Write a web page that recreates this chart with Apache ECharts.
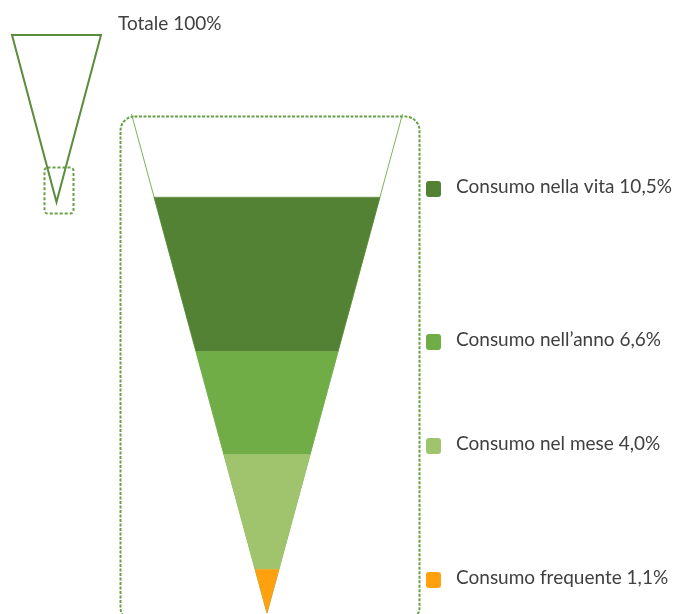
<!DOCTYPE html>
<html>
<head>
<meta charset="utf-8">
<script src="https://cdn.jsdelivr.net/npm/echarts@6/dist/echarts.min.js"></script>
<style>
  html, body { margin: 0; padding: 0; background: #ffffff; }
  #chart { width: 676px; height: 614px; }
</style>
</head>
<body>
<div id="chart"></div>
<script>
// Prevalence levels (% of population)
const categories = ['Consumo nella vita', 'Consumo nell\u2019anno', 'Consumo nel mese', 'Consumo frequente'];
const values = [10.5, 6.6, 4.0, 1.1];
const bandColors = ['#548235', '#70AD47', '#A0C46D', '#FFA10F'];
const totalLabel = 'Totale';
const totalValue = 100;
// upper bound of the magnified funnel section
const zoomTop = 12.6;

const FONT = 'Lato';
const fmt = v => v.toFixed(1).replace('.', ',') + '%';

// band i spans from the next smaller value up to values[i]
const bandData = values.map((v, i) => [i + 1 < values.length ? values[i + 1] : 0, v, i]);

function trapezoid(params, api) {
  const lo = api.value(0), hi = api.value(1), idx = api.value(2);
  const pts = [
    api.coord([-hi, hi]), api.coord([hi, hi]),
    api.coord([lo, lo]), api.coord([-lo, lo])
  ];
  return {
    type: 'polygon',
    shape: { points: pts },
    style: { fill: bandColors[idx], stroke: bandColors[idx], lineWidth: 0.5 }
  };
}

function outline(width, color) {
  return function (params, api) {
    const t = api.value(0);
    return {
      type: 'polyline',
      shape: { points: [api.coord([-t, t]), api.coord([0, 0]), api.coord([t, t])] },
      style: { stroke: color, lineWidth: width, fill: null, lineJoin: 'miter' }
    };
  };
}

function closedOutline(params, api) {
  const t = api.value(0);
  return {
    type: 'polygon',
    shape: { points: [api.coord([-t, t]), api.coord([t, t]), api.coord([0, 0])] },
    style: { stroke: '#5B8C3B', lineWidth: 2, fill: null, lineJoin: 'miter', miterLimit: 20 }
  };
}

const hidden = { show: false };
const chart = echarts.init(document.getElementById('chart'), null, { renderer: 'canvas' });

// legend rows (text + swatch), vertical centres
const legendY = [189, 342, 446, 580];
const legendGraphics = [];
categories.forEach((c, i) => {
  legendGraphics.push({
    type: 'rect', left: 426, top: legendY[i] - 8,
    shape: { width: 15, height: 16, r: 3 },
    style: { fill: bandColors[i] }
  });
  legendGraphics.push({
    type: 'text', left: 456, top: legendY[i] - 12,
    style: { text: c + ' ' + fmt(values[i]), fill: '#404040', font: '19px ' + FONT }
  });
});

chart.setOption({
  animation: false,
  grid: [
    { left: 12, top: 35, width: 89, height: 167 },
    { left: 131.5, top: 114, width: 271, height: 499 }
  ],
  xAxis: [
    Object.assign({ type: 'value', gridIndex: 0, min: -totalValue, max: totalValue }, hidden),
    Object.assign({ type: 'value', gridIndex: 1, min: -zoomTop, max: zoomTop }, hidden)
  ],
  yAxis: [
    Object.assign({ type: 'value', gridIndex: 0, min: 0, max: totalValue }, hidden),
    Object.assign({ type: 'value', gridIndex: 1, min: 0, max: zoomTop }, hidden)
  ],
  series: [
    {
      type: 'custom', xAxisIndex: 0, yAxisIndex: 0,
      renderItem: closedOutline, data: [[totalValue]], silent: true
    },
    {
      type: 'custom', xAxisIndex: 1, yAxisIndex: 1,
      renderItem: outline(1, '#7DB356'), data: [[zoomTop]], silent: true
    },
    {
      type: 'custom', xAxisIndex: 1, yAxisIndex: 1,
      renderItem: trapezoid, data: bandData, silent: true
    }
  ],
  graphic: [
    {
      type: 'text', left: 118, top: 14,
      style: { text: totalLabel + ' ' + totalValue + '%', fill: '#404040', font: '19px ' + FONT }
    },
    {
      type: 'rect', left: 118, top: 114,
      shape: { x: 0, y: 0, width: 299, height: 505, r: 14 },
      style: { fill: null, stroke: '#67A046', lineWidth: 2, lineDash: [3, 1.5] }
    },
    {
      type: 'rect', left: 42, top: 165,
      shape: { x: 0, y: 0, width: 29, height: 46, r: 3 },
      style: { fill: null, stroke: '#67A046', lineWidth: 2, lineDash: [3, 2] }
    }
  ].concat(legendGraphics)
});
</script>
</body>
</html>
